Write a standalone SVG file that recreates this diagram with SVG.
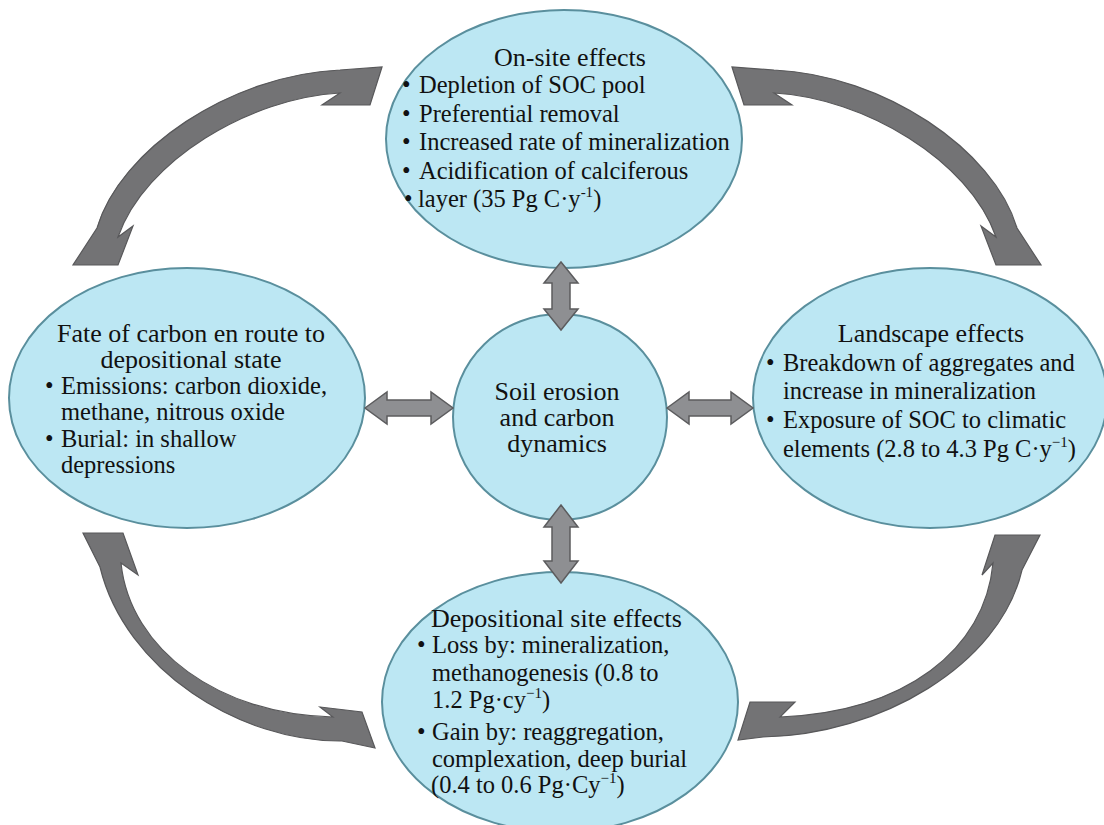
<svg xmlns="http://www.w3.org/2000/svg" width="1104" height="825" viewBox="0 0 1104 825">
  <style>
    .node { fill: #bce7f3; stroke: #5a8f9d; stroke-width: 2; }
    .txt { font-family: "Liberation Serif", "Times New Roman", serif; fill: #111; }
    .head { font-size: 26px; text-anchor: middle; }
    .item { font-size: 24.5px; }
    .sup { font-size: 15px; }
    .dbl { fill: #8e8f92; stroke: #5c5c5e; stroke-width: 1.5; stroke-linejoin: miter; }
    .loop { fill: #737375; stroke: #58585a; stroke-width: 1.2; stroke-linejoin: miter; }
  </style>
  <rect width="1104" height="825" fill="#ffffff"/>

  <!-- On-site effects -->
  <g id="on-site">
    <ellipse class="node" cx="564" cy="139" rx="178" ry="129"/>
    <g class="txt">
      <text class="head" x="570" y="66">On-site effects</text>
      <g class="item">
        <text x="402" y="93">•</text><text x="419" y="93">Depletion of SOC pool</text>
        <text x="402" y="122">•</text><text x="419" y="122">Preferential removal</text>
        <text x="402" y="150">•</text><text x="419" y="150">Increased rate of mineralization</text>
        <text x="402" y="179">•</text><text x="419" y="179">Acidification of calciferous</text>
        <text x="404" y="207">•</text><text x="418" y="207">layer (35 Pg C·y<tspan class="sup" dy="-10">-1</tspan><tspan dy="10">)</tspan></text>
      </g>
    </g>
  </g>

  <!-- Fate of carbon en route -->
  <g id="en-route">
    <ellipse class="node" cx="187" cy="398" rx="178" ry="130"/>
    <g class="txt">
      <text class="head" x="191" y="342">Fate of carbon en route to</text>
      <text class="head" x="191" y="368">depositional state</text>
      <g class="item">
        <text x="45" y="394">•</text><text x="61" y="394">Emissions: carbon dioxide,</text>
        <text x="61" y="420">methane, nitrous oxide</text>
        <text x="45" y="447">•</text><text x="61" y="447">Burial: in shallow</text>
        <text x="61" y="473">depressions</text>
      </g>
    </g>
  </g>

  <!-- Landscape effects -->
  <g id="landscape">
    <ellipse class="node" cx="930" cy="398" rx="177" ry="130"/>
    <g class="txt">
      <text class="head" x="931" y="342">Landscape effects</text>
      <g class="item">
        <text x="766" y="371">•</text><text x="783" y="371">Breakdown of aggregates and</text>
        <text x="783" y="399">increase in mineralization</text>
        <text x="766" y="428">•</text><text x="783" y="428">Exposure of SOC to climatic</text>
        <text x="783" y="457">elements (2.8 to 4.3 Pg C·y<tspan class="sup" dy="-10">−1</tspan><tspan dy="10">)</tspan></text>
      </g>
    </g>
  </g>

  <!-- Depositional site effects -->
  <g id="depositional">
    <ellipse class="node" cx="560" cy="702" rx="178" ry="130"/>
    <g class="txt">
      <text x="431" y="627" style="font-size:26px">Depositional site effects</text>
      <g class="item">
        <text x="417" y="653">•</text><text x="432" y="653">Loss by: mineralization,</text>
        <text x="432" y="681">methanogenesis (0.8 to</text>
        <text x="432" y="708">1.2 Pg·cy<tspan class="sup" dy="-10">−1</tspan><tspan dy="10">)</tspan></text>
        <text x="417" y="740">•</text><text x="432" y="740">Gain by: reaggregation,</text>
        <text x="432" y="767">complexation, deep burial</text>
        <text x="431" y="793">(0.4 to 0.6 Pg·Cy<tspan class="sup" dy="-10">−1</tspan><tspan dy="10">)</tspan></text>
      </g>
    </g>
  </g>

  <!-- Soil erosion and carbon dynamics (hub) -->
  <g id="hub">
    <ellipse class="node" cx="560" cy="417" rx="107" ry="103"/>
    <g class="txt head">
      <text x="557" y="400">Soil erosion</text>
      <text x="557" y="426">and carbon</text>
      <text x="557" y="452">dynamics</text>
    </g>
  </g>

  <!-- Connectors -->
  <g id="connectors">
    <!-- straight two-way arrows to the hub -->
    <path class="dbl" d="M561,262 L578,283 L570,283 L570,309 L578,309 L561,330 L544,309 L552,309 L552,283 L544,283 Z"/>
    <path class="dbl" d="M561,505 L578,527 L570,527 L570,561 L578,561 L561,583 L544,561 L552,561 L552,527 L544,527 Z"/>
    <path class="dbl" d="M365,408 L387,392 L387,400 L431,400 L431,392 L453,408 L431,424 L431,416 L387,416 L387,424 Z"/>
    <path class="dbl" d="M667,408 L689,392 L689,400 L731,400 L731,392 L753,408 L731,424 L731,416 L689,416 L689,424 Z"/>

    <!-- curved two-way arrows around the cycle -->
    <path id="arc-top-left" class="loop" d="M382,67 L370,105 L322,105 L340,93 C250,98 145,160 118,237 L133,226 L118,265 L73,265 L97,228 C120,150 230,75 340,70 Z"/>
    <path id="arc-top-right" class="loop" transform="matrix(-1,0,0,1,1114,0)" d="M382,67 L370,105 L322,105 L340,93 C250,98 145,160 118,237 L133,226 L118,265 L73,265 L97,228 C120,150 230,75 340,70 Z"/>
    <path id="arc-bottom-left" class="loop" d="M83,533 L123,533 L138,575 L121,563 C130,650 220,715 333,717 L320,707 L362,712 L375,748 L342,741 C240,742 125,670 100,567 Z"/>
    <path id="arc-bottom-right" class="loop" d="M1040,535 L995,535 L982,575 L993,563 C985,650 905,712 780,717 L795,702 L750,702 L738,740 L763,737 C880,735 1000,665 1022,570 Z"/>
  </g>
</svg>
